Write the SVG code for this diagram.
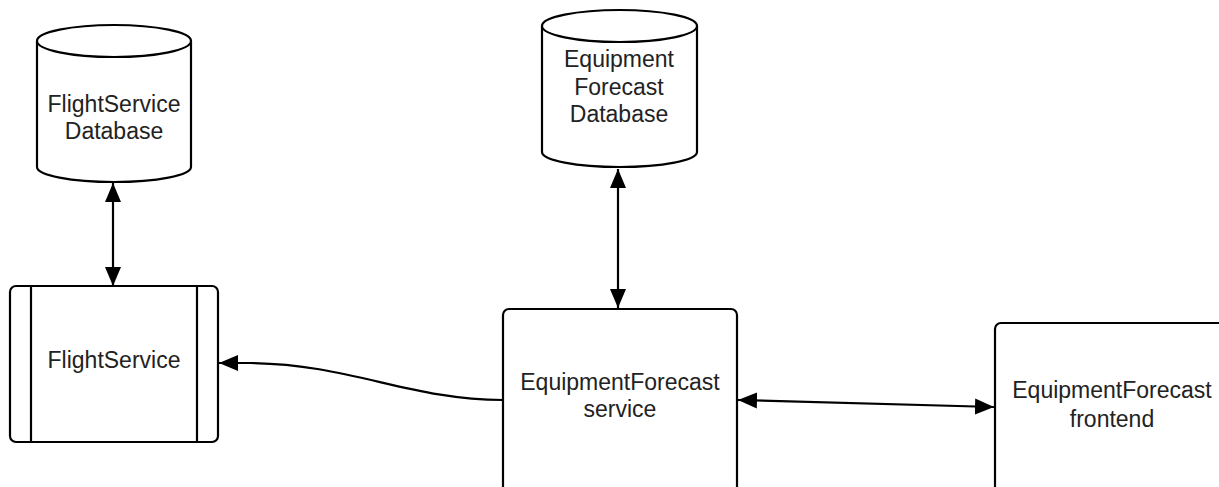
<svg xmlns="http://www.w3.org/2000/svg" width="1219" height="487" viewBox="0 0 1219 487">
<style>
.shape{fill:#fff;stroke:#000;stroke-width:2.2;stroke-linejoin:round}
.conn{fill:none;stroke:#000;stroke-width:2.2}
.lbl{font-family:"Liberation Sans",Arial,sans-serif;font-size:23px;fill:#222;text-anchor:middle}
</style>
<defs>
<marker id="ah" markerUnits="userSpaceOnUse" markerWidth="22" markerHeight="18" refX="19" refY="8" orient="auto-start-reverse" viewBox="0 0 22 18">
<path d="M0,0 L19,8 L0,16 z" fill="#000"/>
</marker>
</defs>
<rect width="1219" height="487" fill="#fff"/>
<g id="connectors">
<line class="conn" x1="113" y1="183" x2="113" y2="286" marker-start="url(#ah)" marker-end="url(#ah)"/>
<line class="conn" x1="618" y1="169" x2="618" y2="308" marker-start="url(#ah)" marker-end="url(#ah)"/>
<path class="conn" d="M503,400 C410,400 350,364 250,363 L219,363" marker-end="url(#ah)"/>
<line class="conn" x1="738" y1="400" x2="994" y2="407" marker-start="url(#ah)" marker-end="url(#ah)"/>
</g>
<g id="flightservice-db">
<path class="shape" d="M37,41 L37,167 A77,15 0 0 0 191,167 L191,41 Z"/>
<ellipse class="shape" cx="114" cy="41" rx="77" ry="16"/>
<text class="lbl" x="114" y="112">FlightService</text>
<text class="lbl" x="114" y="139">Database</text>
</g>
<g id="flightservice">
<rect class="shape" x="10" y="286" width="208" height="156" rx="6"/>
<line class="conn" x1="31" y1="286" x2="31" y2="442"/>
<line class="conn" x1="197" y1="286" x2="197" y2="442"/>
<text class="lbl" x="114" y="368">FlightService</text>
</g>
<g id="equipmentforecast-db">
<path class="shape" d="M542,26 L542,152 A77.5,15 0 0 0 697,152 L697,26 Z"/>
<ellipse class="shape" cx="619.5" cy="26" rx="77.5" ry="16"/>
<text class="lbl" x="619" y="67">Equipment</text>
<text class="lbl" x="619" y="95">Forecast</text>
<text class="lbl" x="619" y="122">Database</text>
</g>
<g id="equipmentforecast-service">
<rect class="shape" x="503" y="309" width="234" height="190" rx="6"/>
<text class="lbl" x="620" y="390">EquipmentForecast</text>
<text class="lbl" x="620" y="417">service</text>
</g>
<g id="equipmentforecast-frontend">
<rect class="shape" x="995" y="323" width="240" height="180" rx="6"/>
<text class="lbl" x="1112" y="398">EquipmentForecast</text>
<text class="lbl" x="1112" y="427">frontend</text>
</g>
</svg>
